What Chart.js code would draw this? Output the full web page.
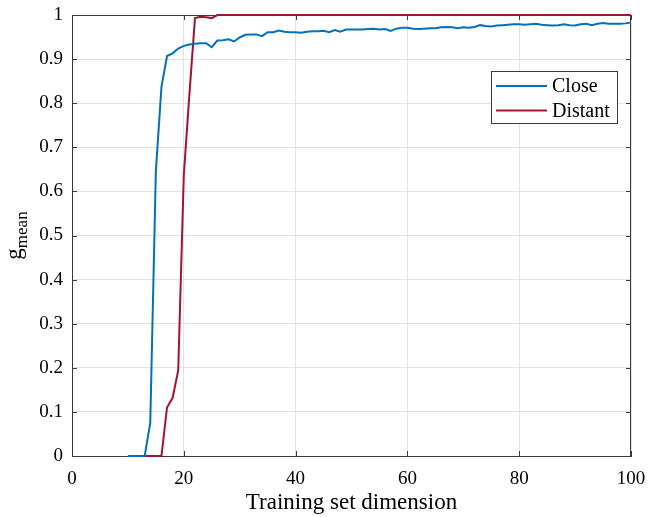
<!DOCTYPE html>
<html>
<head>
<meta charset="utf-8">
<script src="https://cdn.jsdelivr.net/npm/chart.js@4/dist/chart.umd.min.js"></script>
<style>
  html, body { margin: 0; padding: 0; background: #ffffff; }
  #wrap { width: 651px; height: 517px; }
</style>
</head>
<body>
<div id="wrap"><canvas id="c" width="651" height="517"></canvas></div>
<script>
const trainingSize = [10,11,12,13,14,15,16,17,18,19,20,21,22,23,24,25,26,27,28,29,30,31,32,33,34,35,36,37,38,39,40,41,42,43,44,45,46,47,48,49,50,51,52,53,54,55,56,57,58,59,60,61,62,63,64,65,66,67,68,69,70,71,72,73,74,75,76,77,78,79,80,81,82,83,84,85,86,87,88,89,90,91,92,93,94,95,96,97,98,99,100];
const closeValues = [0,0,0,0,0.075,0.645,0.837,0.907,0.913,0.924,0.930,0.933,0.935,0.936,0.936,0.927,0.942,0.943,0.945,0.940,0.949,0.955,0.956,0.956,0.952,0.961,0.961,0.965,0.962,0.961,0.961,0.960,0.962,0.963,0.963,0.964,0.961,0.966,0.962,0.967,0.967,0.967,0.967,0.968,0.969,0.967,0.968,0.964,0.969,0.971,0.971,0.969,0.968,0.969,0.970,0.970,0.972,0.973,0.972,0.970,0.972,0.971,0.973,0.977,0.975,0.974,0.976,0.977,0.978,0.979,0.979,0.978,0.979,0.980,0.978,0.977,0.976,0.977,0.979,0.977,0.976,0.979,0.980,0.977,0.980,0.982,0.980,0.980,0.980,0.981,0.983];
const distantValues = [0,0,0,0,0,0,0,0.110,0.132,0.194,0.637,0.820,0.993,0.996,0.995,0.993,1,1,1,1,1,1,1,1,1,1,1,1,1,1,1,1,1,1,1,1,1,1,1,1,1,1,1,1,1,1,1,1,1,1,1,1,1,1,1,1,1,1,1,1,1,1,1,1,1,1,1,1,1,1,1,1,1,1,1,1,1,1,1,1,1,1,1,1,1,1,1,1,1,1,1];
const xTickLabels = ['0','20','40','60','80','100'];
const yTickLabels = ['0','0.1','0.2','0.3','0.4','0.5','0.6','0.7','0.8','0.9','1'];
const seriesNames = ['Close','Distant'];
const seriesColors = ['#0072BD','#A2142F'];

const FONT = "'Liberation Serif', 'Times New Roman', serif";
const AXIS_COLOR = '#3a3a3a';

function toPoints(xs, ys) { return xs.map((x, i) => ({ x: x, y: ys[i] })); }

const boxAndTicks = {
  id: 'boxAndTicks',
  beforeDatasetsDraw(chart) {
    const { ctx, chartArea: a, scales } = chart;
    ctx.save();
    ctx.strokeStyle = AXIS_COLOR;
    ctx.lineWidth = 1;
    ctx.beginPath();
    ctx.moveTo(a.left, a.top + 0.5); ctx.lineTo(a.right, a.top + 0.5);
    ctx.moveTo(a.right - 0.5, a.top); ctx.lineTo(a.right - 0.5, a.bottom);
    const tl = 5;
    scales.x.ticks.forEach(t => {
      const px = Math.round(scales.x.getPixelForValue(t.value)) + 0.5;
      ctx.moveTo(px, a.bottom); ctx.lineTo(px, a.bottom - tl);
      ctx.moveTo(px, a.top); ctx.lineTo(px, a.top + tl);
    });
    scales.y.ticks.forEach(t => {
      const py = Math.round(scales.y.getPixelForValue(t.value)) + 0.5;
      ctx.moveTo(a.left, py); ctx.lineTo(a.left + tl, py);
      ctx.moveTo(a.right, py); ctx.lineTo(a.right - tl, py);
    });
    ctx.stroke();
    ctx.restore();
  },
  afterDraw(chart) {
    const { ctx, chartArea: a } = chart;
    // y-axis title g_mean
    ctx.save();
    const cy = (a.top + a.bottom) / 2;
    ctx.translate(21, cy);
    ctx.rotate(-Math.PI / 2);
    ctx.fillStyle = '#000';
    ctx.textBaseline = 'alphabetic';
    ctx.textAlign = 'left';
    ctx.font = '23px ' + FONT;
    const gW = ctx.measureText('g').width;
    ctx.font = '17px ' + FONT;
    const mW = ctx.measureText('mean').width;
    const start = -(gW + mW) / 2;
    ctx.font = '23px ' + FONT;
    ctx.fillText('g', start, 0);
    ctx.font = '17px ' + FONT;
    ctx.fillText('mean', start + gW, 6);
    ctx.restore();

    // legend
    ctx.save();
    const bx = a.right - 140, by = a.top + 56, bw = 126, bh = 52;
    ctx.fillStyle = '#ffffff';
    ctx.fillRect(bx, by, bw, bh);
    ctx.strokeStyle = AXIS_COLOR;
    ctx.lineWidth = 1;
    ctx.strokeRect(bx + 0.5, by + 0.5, bw, bh);
    ctx.font = '20px ' + FONT;
    ctx.textBaseline = 'middle';
    ctx.textAlign = 'left';
    chart.data.datasets.forEach((ds, i) => {
      const ry = by + 15 + i * 24.5;
      ctx.strokeStyle = ds.borderColor;
      ctx.lineWidth = 2;
      ctx.beginPath();
      ctx.moveTo(bx + 5, ry); ctx.lineTo(bx + 56, ry);
      ctx.stroke();
      ctx.fillStyle = '#000';
      ctx.fillText(ds.label, bx + 61, ry + 1);
    });
    ctx.restore();
  }
};

new Chart(document.getElementById('c'), {
  type: 'line',
  data: {
    datasets: [
      { label: seriesNames[0], data: toPoints(trainingSize, closeValues), borderColor: seriesColors[0], backgroundColor: seriesColors[0], borderWidth: 2, pointRadius: 0, tension: 0, clip: false },
      { label: seriesNames[1], data: toPoints(trainingSize, distantValues), borderColor: seriesColors[1], backgroundColor: seriesColors[1], borderWidth: 2, pointRadius: 0, tension: 0, clip: false }
    ]
  },
  options: {
    responsive: false,
    animation: false,
    devicePixelRatio: 1,
    layout: { padding: { left: 0, right: 20, top: 15, bottom: 0 } },
    plugins: { legend: { display: false }, tooltip: { enabled: false } },
    scales: {
      x: {
        type: 'linear', min: 0, max: 100,
        ticks: { stepSize: 20, color: '#000', font: { family: FONT, size: 19 }, padding: 12, maxRotation: 0,
          callback: (v) => { const i = v / 20; return Number.isInteger(i) ? xTickLabels[i] : ''; } },
        grid: { color: '#e3e3e3', drawTicks: false },
        border: { color: AXIS_COLOR, width: 1 },
        title: { display: true, text: 'Training set dimension', color: '#000', font: { family: FONT, size: 23 }, padding: { top: 0, bottom: 0 } },
        afterFit: (s) => { s.height = 61; s.paddingLeft = 0; s.paddingRight = 0; }
      },
      y: {
        type: 'linear', min: 0, max: 1,
        ticks: { stepSize: 0.1, color: '#000', font: { family: FONT, size: 19 }, padding: 9,
          callback: (v) => { const i = Math.round(v * 10); return yTickLabels[i]; } },
        grid: { color: '#e3e3e3', drawTicks: false },
        border: { color: AXIS_COLOR, width: 1 },
        afterFit: (s) => { s.width = 72; s.paddingTop = 0; s.paddingBottom = 0; }
      }
    }
  },
  plugins: [boxAndTicks]
});
</script>
</body>
</html>
